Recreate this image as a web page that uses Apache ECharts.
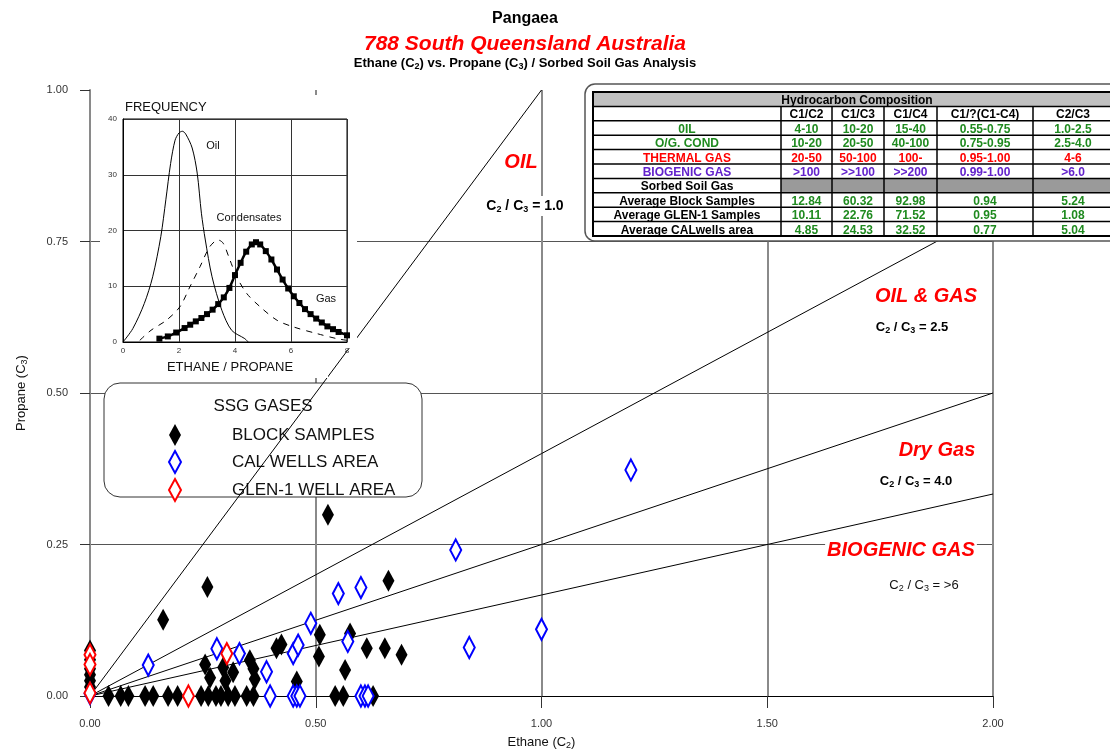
<!DOCTYPE html>
<html>
<head>
<meta charset="utf-8">
<script src="https://cdn.jsdelivr.net/npm/echarts@6/dist/echarts.min.js"></script>
<style>
  html, body { margin: 0; padding: 0; background: #fff; }
  #chart { width: 1110px; height: 752px; }
</style>
</head>
<body>
<div id="chart"></div>
<script>
// ---- data ----
var FONT = 'Liberation Sans, Arial, sans-serif'

// main plot: ethane (x) vs propane (y)
var blockSamples = [
  [0, 0.075], [0, 0.06], [0, 0.045], [0, 0.035], [0, 0.025], [0, 0.015], [0, 0.005],
  [0.041, 0], [0.068, 0], [0.085, 0], [0.122, 0], [0.140, 0], [0.173, 0], [0.194, 0],
  [0.246, 0], [0.262, 0], [0.279, 0], [0.290, 0], [0.306, 0], [0.321, 0], [0.347, 0],
  [0.362, 0], [0.543, 0], [0.561, 0], [0.627, 0],
  [0.162, 0.126], [0.260, 0.180], [0.255, 0.052], [0.266, 0.030], [0.295, 0.047],
  [0.300, 0.025], [0.317, 0.039], [0.354, 0.059], [0.362, 0.045], [0.365, 0.028],
  [0.413, 0.079], [0.424, 0.085], [0.458, 0.024], [0.509, 0.101], [0.507, 0.065],
  [0.576, 0.103], [0.565, 0.043], [0.613, 0.079], [0.653, 0.079], [0.690, 0.068],
  [0.661, 0.190], [0.527, 0.299]
]
var calWells = [
  [0, 0.004], [0.129, 0.051], [0.281, 0.078], [0.331, 0.070], [0.391, 0.040],
  [0.450, 0.070], [0.461, 0.084], [0.489, 0.120], [0.571, 0.090], [0.550, 0.169],
  [0.600, 0.179], [0.810, 0.241], [0.840, 0.080], [1.000, 0.110], [1.198, 0.373],
  [0.399, 0], [0.450, 0], [0.458, 0], [0.465, 0], [0.600, 0], [0.609, 0], [0.616, 0]
]
var glenWell = [[0, 0.068], [0, 0.052], [0, 0.005], [0.218, 0], [0.303, 0.070]]

// C2/C3 boundary ratios
var ratioValues = [1.0, 2.5, 4.0, 6.0]
var xTicks = [0, 0.5, 1.0, 1.5, 2.0]
var yTicks = [0, 0.25, 0.5, 0.75, 1.0]

// inset: frequency vs ethane/propane
var oilCurve = [
  [0, 0], [0.35, 2.4], [0.76, 6.9], [1.06, 11.7], [1.35, 18.9], [1.53, 25.5], [1.7, 32],
  [1.86, 36.2], [2.0, 37.5], [2.12, 37.8], [2.24, 37.3], [2.47, 34.8], [2.65, 30.3], [2.8, 23.1],
  [2.94, 18.3], [3.18, 11.7], [3.53, 5.7], [3.88, 2.1], [4.35, 0.6], [4.47, 0]
]
var condensateCurve = [
  [0.6, 0.3], [1.0, 2.1], [1.55, 3.9], [2.03, 6.3], [2.39, 9.9], [2.75, 13.5], [3.1, 17.1],
  [3.4, 18.3], [3.58, 17.7], [3.82, 14.7], [4.06, 11.7], [4.42, 8.7], [4.9, 6.3],
  [5.5, 3.9], [6.09, 2.7], [6.93, 1.5], [7.64, 0.6], [8, 0.3]
]
var gasCurve = [
  [1.3, 0.6], [1.6, 1.0], [1.9, 1.7], [2.2, 2.5], [2.4, 3.1], [2.6, 3.7], [2.8, 4.3],
  [3.0, 5.0], [3.2, 5.8], [3.4, 6.8], [3.6, 8.0], [3.8, 9.7], [4.0, 12.0], [4.2, 14.2],
  [4.4, 16.2], [4.6, 17.5], [4.75, 17.9], [4.9, 17.5], [5.1, 16.3], [5.3, 14.8],
  [5.5, 13.0], [5.7, 11.2], [5.9, 9.6], [6.1, 8.2], [6.3, 7.0], [6.5, 5.9], [6.7, 5.0],
  [6.9, 4.2], [7.1, 3.5], [7.3, 2.8], [7.5, 2.3], [7.7, 1.8], [8.0, 1.2]
]

// hydrocarbon composition table
var tableTitle = 'Hydrocarbon Composition'
var tableHeader = ['', 'C1/C2', 'C1/C3', 'C1/C4', 'C1/?(C1-C4)', 'C2/C3']
var tableRows = [
  ['0IL', '4-10', '10-20', '15-40', '0.55-0.75', '1.0-2.5'],
  ['O/G. COND', '10-20', '20-50', '40-100', '0.75-0.95', '2.5-4.0'],
  ['THERMAL GAS', '20-50', '50-100', '100-', '0.95-1.00', '4-6'],
  ['BIOGENIC GAS', '>100', '>>100', '>>200', '0.99-1.00', '>6.0'],
  ['Sorbed Soil Gas', '', '', '', '', ''],
  ['Average Block Samples', '12.84', '60.32', '92.98', '0.94', '5.24'],
  ['Average GLEN-1 Samples', '10.11', '22.76', '71.52', '0.95', '1.08'],
  ['Average CALwells area', '4.85', '24.53', '32.52', '0.77', '5.04']
]
var GREEN = '#1f8a1f'
var RED = '#ff0000'
var PURPLE = '#6322cc'
var rowLabelColors = [GREEN, GREEN, RED, PURPLE, '#000', '#000', '#000', '#000']
var rowValueColors = [GREEN, GREEN, RED, PURPLE, '#000', GREEN, GREEN, GREEN]

// ---- table graphics ----
function buildTable() {
  var colX = [593, 781, 832, 884, 937, 1033, 1113]
  var top = 92
  var rowH = 14.4
  var nRows = tableRows.length + 2
  var left = colX[0]
  var right = colX[colX.length - 1]
  var els = []
  els.push({ type: 'rect', z: 10, shape: { x: 585, y: 84, width: 545, height: 157, r: 10 },
    style: { fill: '#fff', stroke: '#555', lineWidth: 1.5 } })
  els.push({ type: 'rect', z: 11, shape: { x: left, y: top, width: right - left, height: rowH },
    style: { fill: '#c0c0c0' } })
  // grey cells of the "Sorbed Soil Gas" row
  els.push({ type: 'rect', z: 11, shape: { x: colX[1], y: top + rowH * 6, width: right - colX[1], height: rowH },
    style: { fill: '#9a9a9a' } })
  for (var r = 1; r < nRows; r++) {
    els.push({ type: 'line', z: 12, shape: { x1: left, y1: top + rowH * r, x2: right, y2: top + rowH * r },
      style: { stroke: '#000', lineWidth: 1.5 } })
  }
  for (var c = 1; c < colX.length - 1; c++) {
    els.push({ type: 'line', z: 12, shape: { x1: colX[c], y1: top + rowH, x2: colX[c], y2: top + rowH * nRows },
      style: { stroke: '#000', lineWidth: 1.5 } })
  }
  els.push({ type: 'rect', z: 12, shape: { x: left, y: top, width: right - left, height: rowH * nRows },
    style: { fill: 'none', stroke: '#000', lineWidth: 2 } })
  function cellText(txt, cx, row, color) {
    els.push({ type: 'text', z: 13, x: cx, y: top + rowH * row + rowH / 2 + 1.5,
      style: { text: txt, fill: color, font: 'bold 12px ' + FONT, align: 'center', verticalAlign: 'middle' } })
  }
  cellText(tableTitle, (left + right) / 2 + 4, 0, '#000')
  tableHeader.forEach(function (h, i) {
    if (h) cellText(h, (colX[i] + colX[i + 1]) / 2, 1, '#000')
  })
  tableRows.forEach(function (row, ri) {
    row.forEach(function (v, ci) {
      if (!v) return
      cellText(v, (colX[ci] + colX[ci + 1]) / 2, ri + 2, ci === 0 ? rowLabelColors[ri] : rowValueColors[ri])
    })
  })
  return els
}

function label(txt, x, y, opts) {
  opts = opts || {}
  var size = opts.size || 13
  var weight = opts.weight || 'bold'
  return { type: 'text', z: opts.z || 2.5, x: x, y: y,
    style: Object.assign({ text: txt, fill: '#000', align: 'center', verticalAlign: 'middle',
      font: weight + ' ' + size + 'px ' + FONT,
      rich: { s: { fontSize: 9, fontWeight: weight, fontFamily: FONT, padding: [7, 0, 0, 0] } } },
      opts.style || {}) }
}

function redTitle(txt, x, y, size) {
  return { type: 'text', z: 2.5, x: x, y: y,
    style: { text: txt, fill: RED, font: 'italic bold ' + (size || 20) + 'px ' + FONT,
      align: 'center', verticalAlign: 'middle', backgroundColor: '#fff', padding: [0, 2] } }
}

var ratioLines = ratioValues.map(function (r) {
  var endX = Math.min(2, r)
  return { type: 'line', z: 3, silent: true, symbol: 'none', animation: false,
    data: [[0, 0], [endX, endX / r]], lineStyle: { color: '#000', width: 1 } }
})

var graphics = [
  // titles
  { type: 'text', x: 525, y: 19, style: { text: 'Pangaea', font: 'bold 16px ' + FONT, fill: '#000', align: 'center', verticalAlign: 'middle' } },
  { type: 'text', x: 525, y: 44, style: { text: '788 South Queensland Australia', font: 'italic bold 21px ' + FONT, fill: RED, align: 'center', verticalAlign: 'middle' } },
  label('Ethane (C{s|2}) vs. Propane (C{s|3}) / Sorbed Soil Gas Analysis', 525, 63),
  // legend box
  { type: 'rect', z: 1, shape: { x: 104, y: 383, width: 318, height: 114, r: 16 },
    style: { fill: '#fff', stroke: '#333', lineWidth: 1 } },
  { type: 'text', z: 2, x: 263, y: 406, style: { text: 'SSG GASES', font: '17px ' + FONT, fill: '#111', align: 'center', verticalAlign: 'middle' } },
  // inset backdrop and labels
  { type: 'rect', z: 5, shape: { x: 100, y: 95, width: 257, height: 253 }, style: { fill: '#fff' } },
  { type: 'rect', z: 5, shape: { x: 100, y: 347, width: 228, height: 31 }, style: { fill: '#fff' } },
  { type: 'text', z: 8, x: 125, y: 107, style: { text: 'FREQUENCY', font: '13px ' + FONT, fill: '#111', align: 'left', verticalAlign: 'middle' } },
  { type: 'text', z: 8, x: 230, y: 367, style: { text: 'ETHANE / PROPANE', font: '13px ' + FONT, fill: '#111', align: 'center', verticalAlign: 'middle' } },
  { type: 'text', z: 8, x: 213, y: 146, style: { text: 'Oil', font: '11px ' + FONT, fill: '#111', align: 'center', verticalAlign: 'middle' } },
  { type: 'text', z: 8, x: 249, y: 218, style: { text: 'Condensates', font: '11px ' + FONT, fill: '#111', align: 'center', verticalAlign: 'middle' } },
  { type: 'text', z: 8, x: 326, y: 299, style: { text: 'Gas', font: '11px ' + FONT, fill: '#111', align: 'center', verticalAlign: 'middle' } },
  // zone labels
  redTitle('OIL', 521, 162),
  label('C{s|2} / C{s|3} = 1.0', 525, 206, { size: 14, style: { backgroundColor: '#fff', padding: [2, 2] } }),
  redTitle('OIL & GAS', 926, 296),
  label('C{s|2} / C{s|3} = 2.5', 912, 327, { style: { backgroundColor: '#fff' } }),
  redTitle('Dry Gas', 937, 450),
  label('C{s|2} / C{s|3} = 4.0', 916, 481, { style: { backgroundColor: '#fff' } }),
  redTitle('BIOGENIC GAS', 901, 550),
  label('C{s|2} / C{s|3} = >6', 924, 585, { weight: 'normal', style: { fill: '#111' } })
].concat(buildTable())

var chart = echarts.init(document.getElementById('chart'), null, { renderer: 'canvas' })
var fmt2 = function (v) { return v.toFixed(2) }

chart.setOption({
  animation: false,
  backgroundColor: '#fff',
  textStyle: { fontFamily: FONT },
  grid: [
    { left: 90, top: 90, width: 903, height: 606, containLabel: false, outerBoundsMode: 'none' },
    { left: 123, top: 119, width: 224, height: 223, show: true, borderColor: '#000', borderWidth: 1,
      backgroundColor: 'transparent', z: 6, containLabel: false, outerBoundsMode: 'none' }
  ],
  xAxis: [
    { gridIndex: 0, type: 'value', min: xTicks[0], max: xTicks[xTicks.length - 1], interval: 0.5,
      name: 'Ethane (C{s|2})', nameLocation: 'middle', nameGap: 38,
      nameTextStyle: { fontSize: 13, color: '#111', rich: { s: { fontSize: 9, padding: [7, 0, 0, 0], color: '#111' } } },
      axisLine: { lineStyle: { color: '#000', width: 1 } },
      axisTick: { length: 12, lineStyle: { color: '#333' } },
      axisLabel: { formatter: fmt2, fontSize: 11, color: '#333', margin: 22 },
      splitLine: { show: true, showMinLine: false, lineStyle: { color: '#8a8a8a', width: 2 } } },
    { gridIndex: 1, type: 'value', min: 0, max: 8, interval: 2, z: 6,
      axisLine: { lineStyle: { color: '#000', width: 1 } },
      axisTick: { show: false },
      axisLabel: { fontSize: 8, color: '#333', margin: 5 },
      splitLine: { show: true, lineStyle: { color: '#333', width: 1 } } }
  ],
  yAxis: [
    { gridIndex: 0, type: 'value', min: yTicks[0], max: yTicks[yTicks.length - 1], interval: 0.25,
      name: 'Propane (C{s|3})', nameLocation: 'middle', nameGap: 61, nameRotate: 90,
      nameTextStyle: { fontSize: 13, color: '#111', rich: { s: { fontSize: 9, padding: [7, 0, 0, 0], color: '#111' } } },
      axisLine: { show: true, lineStyle: { color: '#8a8a8a', width: 2 } },
      axisTick: { show: true, length: 10, lineStyle: { color: '#333' } },
      axisLabel: { formatter: fmt2, fontSize: 11, color: '#333', margin: 22 },
      splitLine: { show: true, showMaxLine: false, lineStyle: { color: '#555', width: 1 } } },
    { gridIndex: 1, type: 'value', min: 0, max: 40, interval: 10, z: 6,
      axisLine: { show: true, lineStyle: { color: '#000', width: 1 } },
      axisTick: { show: false },
      axisLabel: { fontSize: 8, color: '#333', margin: 6 },
      splitLine: { show: true, lineStyle: { color: '#333', width: 1 } } }
  ],
  legend: {
    orient: 'vertical', left: 163, top: 419, itemWidth: 12, itemHeight: 22, itemGap: 4, z: 2,
    data: ['BLOCK SAMPLES', 'CAL WELLS AREA', 'GLEN-1 WELL AREA'],
    textStyle: { fontSize: 17, color: '#111', padding: [0, 0, 0, 46] },
    selectedMode: false
  },
  graphic: graphics,
  series: ratioLines.concat([
    { name: 'BLOCK SAMPLES', type: 'scatter', z: 4, symbol: 'diamond', symbolSize: [12, 22],
      data: blockSamples, itemStyle: { color: '#000', opacity: 1 } },
    { name: 'CAL WELLS AREA', type: 'scatter', z: 4, symbol: 'diamond', symbolSize: [11, 21],
      data: calWells, itemStyle: { color: '#fff', borderColor: '#0000ff', borderWidth: 2.2, opacity: 1 } },
    { name: 'GLEN-1 WELL AREA', type: 'scatter', z: 4, symbol: 'diamond', symbolSize: [11, 21],
      data: glenWell, itemStyle: { color: '#fff', borderColor: '#ff0000', borderWidth: 2.2, opacity: 1 } },
    { name: 'Oil', type: 'line', xAxisIndex: 1, yAxisIndex: 1, z: 7, symbol: 'none', smooth: 0.3,
      data: oilCurve, lineStyle: { color: '#000', width: 1 } },
    { name: 'Condensates', type: 'line', xAxisIndex: 1, yAxisIndex: 1, z: 7, symbol: 'none', smooth: 0.3,
      data: condensateCurve, lineStyle: { color: '#000', width: 1, type: [6, 6] } },
    { name: 'Gas', type: 'line', xAxisIndex: 1, yAxisIndex: 1, z: 7, symbol: 'rect', symbolSize: 6, smooth: 0.3,
      data: gasCurve, lineStyle: { color: '#000', width: 2.5 }, itemStyle: { color: '#000' } }
  ])
})
</script>
</body>
</html>
